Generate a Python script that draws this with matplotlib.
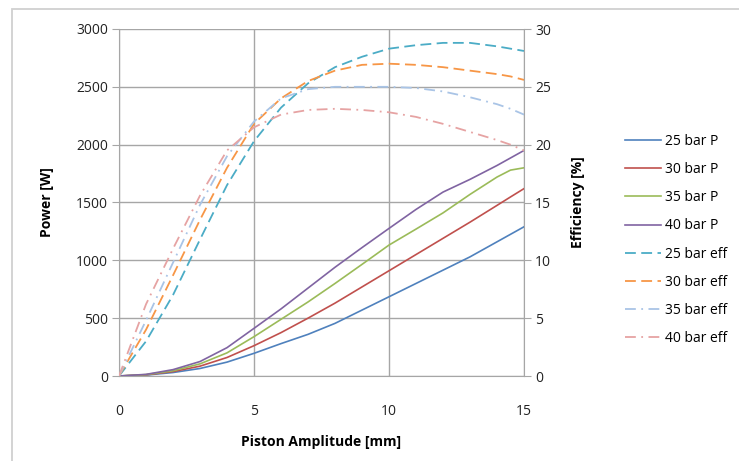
import matplotlib
matplotlib.use("Agg")
import matplotlib.pyplot as plt
from matplotlib.patches import Rectangle

plt.rcParams['font.family'] = ['Open Sans', 'DejaVu Sans']

amplitude = [0, 1, 2, 3, 4, 5, 6, 7, 8, 9, 10, 11, 12, 13, 14, 14.5, 15]

p25 = [0, 8, 30, 65, 120, 196, 280, 360, 455, 570, 685, 800, 915, 1030, 1160, 1225, 1290]
p30 = [0, 10, 38, 85, 160, 262, 375, 500, 630, 770, 910, 1050, 1190, 1330, 1475, 1548, 1620]
p35 = [0, 12, 45, 105, 200, 340, 490, 640, 800, 965, 1132, 1270, 1410, 1570, 1720, 1780, 1800]
p40 = [0, 14, 55, 125, 245, 412, 580, 760, 940, 1110, 1276, 1440, 1590, 1700, 1820, 1885, 1950]

e25 = [0, 3.0, 7.0, 11.8, 16.5, 20.3, 23.2, 25.3, 26.7, 27.6, 28.3, 28.6, 28.8, 28.8, 28.5, 28.3, 28.1]
e30 = [0, 4.0, 8.7, 13.5, 18.0, 21.8, 24.0, 25.5, 26.4, 26.9, 27.0, 26.9, 26.7, 26.4, 26.1, 25.9, 25.6]
e35 = [0, 4.8, 9.8, 14.8, 19.0, 22.0, 24.0, 24.8, 25.0, 25.0, 25.0, 24.9, 24.6, 24.1, 23.5, 23.1, 22.6]
e40 = [0, 6.2, 11.0, 15.6, 19.5, 21.5, 22.6, 23.0, 23.1, 23.0, 22.8, 22.4, 21.8, 21.1, 20.4, 20.0, 19.5]

power_labels = ['25 bar P', '30 bar P', '35 bar P', '40 bar P']
eff_labels = ['25 bar eff', '30 bar eff', '35 bar eff', '40 bar eff']

p_colors = ['#4f81bd', '#c0504d', '#9bbb59', '#8064a2']
e_colors = ['#4bacc6', '#f79646', '#a9c4e6', '#e6a3a3']

fig = plt.figure(figsize=(7.39, 4.61), dpi=100)
fig.patches.append(Rectangle((12/739, -0.1), 1.2, 1 - 9/461 + 0.1, transform=fig.transFigure,
                             fill=False, edgecolor='#d0d0d0', linewidth=1.3))

ax = fig.add_axes([119/739, 1 - 376/461, (524-119)/739, (376-29)/461])
ax2 = ax.twinx()

grid_c = '#a6a6a6'
ax.set_xlim(0, 15)
ax.set_ylim(0, 3000)
ax2.set_ylim(0, 30)
ax.set_xticks([0, 5, 10, 15])
ax.set_yticks(range(0, 3001, 500))
ax2.set_yticks(range(0, 31, 5))
ax.grid(True, color=grid_c, linewidth=1.0)
for a in (ax, ax2):
    for s in a.spines.values():
        s.set_visible(False)
ax.spines['left'].set_visible(True)
ax.spines['left'].set_color(grid_c)
ax2.spines['right'].set_visible(True)
ax2.spines['right'].set_color(grid_c)
ax.spines['bottom'].set_visible(True)
ax.spines['bottom'].set_color(grid_c)

ax.tick_params(axis='x', length=0, pad=20, labelsize=10, colors='#222222')
ax.tick_params(axis='y', length=5, color=grid_c, labelsize=10, labelcolor='#222222', pad=3)
ax2.tick_params(axis='y', length=5, color=grid_c, labelsize=10, labelcolor='#222222', pad=3)

handles = []
for y, c, lab in zip([p25, p30, p35, p40], p_colors, power_labels):
    h, = ax.plot(amplitude, y, color=c, linewidth=1.2, label=lab)
    handles.append(h)

styles = [(0, (6, 3)), (0, (6, 3)), (0, (6, 3, 1, 3)), (0, (6, 3, 1, 3))]
for y, c, lab, ls in zip([e25, e30, e35, e40], e_colors, eff_labels, styles):
    h, = ax2.plot(amplitude, y, color=c, linewidth=1.3, linestyle=ls, label=lab)
    handles.append(h)

ax.set_xlabel('Piston Amplitude [mm]', fontsize=10, fontweight='bold', labelpad=12)
ax.set_ylabel('Power [W]', fontsize=10, fontweight='bold', labelpad=16)
ax2.set_ylabel('Efficiency [%]', fontsize=10, fontweight='bold', labelpad=14)

fig.legend(handles=handles, labels=power_labels + eff_labels, loc='center left',
           bbox_to_anchor=(612/739, 1 - 240/461), frameon=False, fontsize=10,
           handlelength=2.6, labelspacing=0.95, handletextpad=0.3)

fig.savefig('out.png', dpi=100)
